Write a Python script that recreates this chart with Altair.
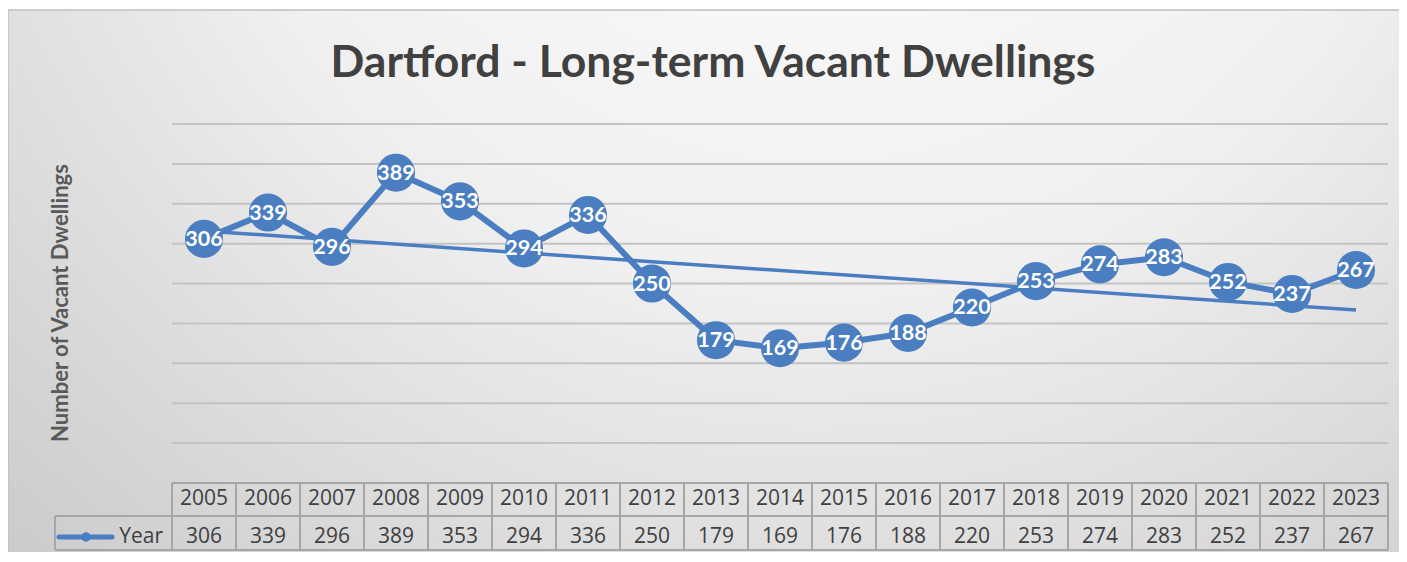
import altair as alt
import pandas as pd

YEARS = [2005, 2006, 2007, 2008, 2009, 2010, 2011, 2012, 2013, 2014,
         2015, 2016, 2017, 2018, 2019, 2020, 2021, 2022, 2023]
VACANT = [306, 339, 296, 389, 353, 294, 336, 250, 179, 169,
          176, 188, 220, 253, 274, 283, 252, 237, 267]
GRID_VALUES = [50, 100, 150, 200, 250, 300, 350, 400, 450]
TITLE = "Dartford - Long-term Vacant Dwellings"
Y_TITLE = "Number of Vacant Dwellings"
SERIES = "Year"

BLUE = "#4a7ec0"
TEXT = "#404040"
BORDER = "#a6a6a6"

W, H = 1216, 359
PAD = {"left": 164, "top": 116, "right": 11, "bottom": 69}
ROW1_Y = 375
ROW2_Y = 413
ROW_SPLIT = 392
TABLE_BOTTOM = 426
LEG_LEFT = -117

df = pd.DataFrame({"year": YEARS, "value": VACANT})
grid_df = pd.DataFrame({"v": GRID_VALUES})
one = pd.DataFrame({"a": [0]})

xs = alt.Scale(domain=[2004.5, 2023.5], nice=False, zero=False)
ys = alt.Scale(domain=[0, 450], nice=False, zero=True)
X = alt.X("year:Q", scale=xs, axis=None)
Y = alt.Y("value:Q", scale=ys, axis=None)

gradient = {
    "gradient": "radial",
    "x1": 0.58, "y1": 0.05, "r1": 0.0,
    "x2": 0.58, "y2": 0.05, "r2": 0.9,
    "stops": [
        {"offset": 0.0, "color": "#ffffff"},
        {"offset": 0.5, "color": "#f0f0f0"},
        {"offset": 1.0, "color": "#c8c8c8"},
    ],
}

bg = alt.Chart(one).mark_rect(fill=gradient, stroke="#c0c0c0", strokeWidth=1.5).encode(
    x=alt.value(-164), x2=alt.value(W + 12), y=alt.value(-114), y2=alt.value(H + 80)
)

grid = alt.Chart(grid_df).mark_rule(color="#c3c3c3", strokeWidth=2).encode(
    y=alt.Y("v:Q", scale=ys, axis=None), x=alt.value(0), x2=alt.value(W)
)

base = alt.Chart(df)

trend = base.transform_regression("year", "value", method="linear").mark_line(
    color=BLUE, strokeWidth=3.5
).encode(x=X, y=Y)

line = base.mark_line(color=BLUE, strokeWidth=6).encode(x=X, y=Y)
pts = base.mark_circle(color=BLUE, size=1450, opacity=1).encode(x=X, y=Y)
labels = base.mark_text(
    color="white", font="Lato", fontWeight="bold", fontSize=21.5, baseline="middle", dy=1
).encode(x=X, y=Y, text="value:Q")

title = alt.Chart(one).mark_text(
    text=TITLE, font="Lato", fontWeight="bold", fontSize=44.5, color=TEXT,
    align="center", baseline="alphabetic"
).encode(x=alt.value(541), y=alt.value(-47))

ytitle = alt.Chart(one).mark_text(
    text=Y_TITLE, font="Lato", fontWeight="bold", fontSize=22, color="#595959",
    align="center", baseline="middle", angle=270
).encode(x=alt.value(-111), y=alt.value(179))

# table
year_txt = base.mark_text(font="Open Sans", fontSize=21, color=TEXT, baseline="middle").encode(
    x=X, y=alt.value(ROW1_Y), text=alt.Text("year:Q", format="d")
)
val_txt = base.mark_text(font="Open Sans", fontSize=21, color=TEXT, baseline="middle").encode(
    x=X, y=alt.value(ROW2_Y), text="value:Q"
)
vlines = base.transform_calculate(b="datum.year - 0.5").mark_rule(color=BORDER, strokeWidth=2).encode(
    x=alt.X("b:Q", scale=xs, axis=None), y=alt.value(H), y2=alt.value(TABLE_BOTTOM)
)
right_line = alt.Chart(one).mark_rule(color=BORDER, strokeWidth=2).encode(
    x=alt.value(W), y=alt.value(H), y2=alt.value(TABLE_BOTTOM)
)
left_line = alt.Chart(one).mark_rule(color=BORDER, strokeWidth=2).encode(
    x=alt.value(LEG_LEFT), y=alt.value(ROW_SPLIT), y2=alt.value(TABLE_BOTTOM)
)
top_line = alt.Chart(one).mark_rule(color=BORDER, strokeWidth=2).encode(
    x=alt.value(0), x2=alt.value(W), y=alt.value(H)
)
mid_line = alt.Chart(one).mark_rule(color=BORDER, strokeWidth=2).encode(
    x=alt.value(LEG_LEFT), x2=alt.value(W), y=alt.value(ROW_SPLIT)
)
bot_line = alt.Chart(one).mark_rule(color=BORDER, strokeWidth=2).encode(
    x=alt.value(LEG_LEFT), x2=alt.value(W), y=alt.value(TABLE_BOTTOM)
)
leg_line = alt.Chart(one).mark_rule(color=BLUE, strokeWidth=5, strokeCap="round").encode(
    x=alt.value(-113), x2=alt.value(-60), y=alt.value(ROW2_Y)
)
leg_pt = alt.Chart(one).mark_circle(color=BLUE, size=90, opacity=1).encode(
    x=alt.value(-86), y=alt.value(ROW2_Y)
)
leg_txt = alt.Chart(one).mark_text(
    text=SERIES, font="Open Sans", fontSize=21, color=TEXT, align="right", baseline="middle"
).encode(x=alt.value(-9), y=alt.value(ROW2_Y))

chart = alt.layer(
    bg, grid, trend, line, pts, labels, title, ytitle,
    vlines, right_line, left_line, top_line, mid_line, bot_line,
    year_txt, val_txt, leg_line, leg_pt, leg_txt,
).properties(
    width=W, height=H, padding=PAD, autosize=alt.AutoSizeParams(type="none")
).configure_view(stroke=None).configure(background="white")

chart.save("out.html", embed_options={"renderer": "svg", "actions": False})
